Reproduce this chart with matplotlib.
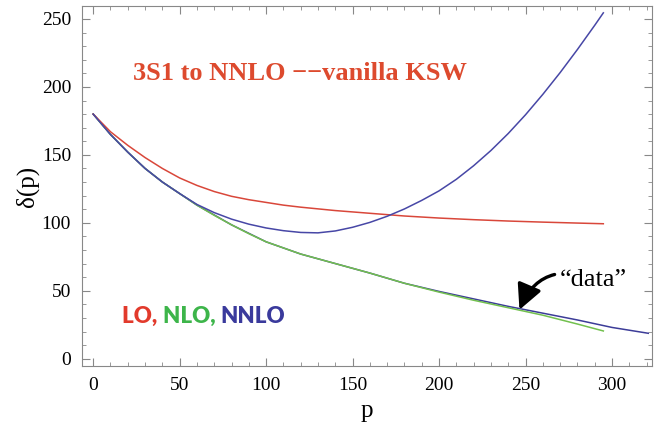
import numpy as np
import matplotlib.pyplot as plt
from matplotlib.ticker import MultipleLocator

# momentum p and phase shift delta(p) in degrees
p_lo = [0, 10, 20, 30, 40, 50, 60, 70, 80, 90, 100, 110, 120, 140, 160, 180,
        200, 220, 240, 260, 280, 295]
d_lo = [180, 167, 157, 148, 140, 133, 127.5, 123, 119.5, 117, 115, 113, 111.5,
        109, 107, 105, 103.5, 102.3, 101.3, 100.5, 99.8, 99.3]

p_nlo = [0, 10, 20, 30, 40, 50, 60, 70, 80, 90, 100, 110, 120, 140, 160, 180,
         200, 220, 240, 260, 280, 295]
d_nlo = [180, 165, 152, 140, 130, 121.5, 113, 105.5, 98.5, 92, 86, 81.5, 77,
         70, 63, 55.5, 49, 43, 37.5, 32, 25.5, 20.4]

p_nnlo = [0, 10, 20, 30, 40, 50, 60, 70, 80, 90, 100, 110, 120, 130, 140, 150,
          160, 170, 180, 190, 200, 210, 220, 230, 240, 250, 260, 270, 280, 290, 295]
d_nnlo = [180, 165, 152, 140, 130, 121.5, 113.5, 107.5, 102.7, 99, 96.2, 94.2,
          92.9, 92.6, 94, 96.7, 100.3, 104.8, 110.2, 116.5, 123.5, 132, 142, 153.2,
          165.7, 179.5, 194.5, 210.5, 227.5, 245.3, 254.5]

p_data = [0, 10, 20, 30, 40, 50, 60, 80, 100, 120, 140, 160, 180, 200, 220, 240,
          260, 280, 300, 321]
d_data = [180, 165, 152, 140, 130, 121.5, 113, 98.5, 86, 77, 70, 63, 55.5, 49.5,
          44, 38.5, 33.5, 28.5, 23, 18.7]

red = "#d9473a"
green = "#72c04e"
blue = "#4747a6"

fig = plt.figure(figsize=(6.57, 4.33), dpi=100)
ax = fig.add_axes([0.125, 0.155, 0.867, 0.831])

ax.plot(p_data, d_data, color="#3c3c98", lw=1.1)
ax.plot(p_nlo, d_nlo, color=green, lw=1.1)
ax.plot(p_lo, d_lo, color=red, lw=1.1)
ax.plot(p_nnlo, d_nnlo, color=blue, lw=1.1)

ax.set_xlim(-6.4, 323)
ax.set_ylim(-5.3, 259.5)

ax.xaxis.set_major_locator(MultipleLocator(50))
ax.xaxis.set_minor_locator(MultipleLocator(10))
ax.yaxis.set_major_locator(MultipleLocator(50))
ax.yaxis.set_minor_locator(MultipleLocator(10))
ax.tick_params(which="both", direction="in", top=True, right=True, color="#888888")
ax.tick_params(which="major", length=6, width=0.8, labelsize=14, pad=8)
ax.tick_params(which="minor", length=3, width=0.6)
for s in ax.spines.values():
    s.set_color("#888888")
    s.set_linewidth(0.8)
for lab in ax.get_xticklabels() + ax.get_yticklabels():
    lab.set_family("Liberation Serif")

ax.set_xlabel("p", family="Liberation Serif", fontsize=18, labelpad=4)
ax.set_ylabel("δ(p)", family="Liberation Serif", fontsize=18, labelpad=2)

fig.text(0.457, 0.831, "3S1 to NNLO −−vanilla KSW", family="Liberation Serif",
         fontweight="bold", fontsize=19, color="#dd4a2e", ha="center", va="center")

# LO, NLO, NNLO coloured label
t = fig.text(0.186, 0.27, "LO, ", family="Lato", fontweight="heavy",
             fontsize=16, color="#e23a2c", va="center")
t2 = ax.annotate("NLO, ", xycoords=t, xy=(1, 0), va="bottom", family="Lato",
                 fontweight="heavy", fontsize=16, color="#3db54a")
ax.annotate("NNLO", xycoords=t2, xy=(1, 0), va="bottom", family="Lato",
            fontweight="heavy", fontsize=16, color="#3a3a9c")

ax.annotate("“data”", xy=(246.5, 36), xytext=(270, 58), family="Liberation Serif",
            fontsize=19, va="center", ha="left",
            arrowprops=dict(arrowstyle="-|>,head_length=0.8,head_width=0.4",
                            connectionstyle="arc3,rad=0.5", color="black", lw=2.4,
                            shrinkA=2, shrinkB=0))

plt.savefig("out.png", dpi=100)
